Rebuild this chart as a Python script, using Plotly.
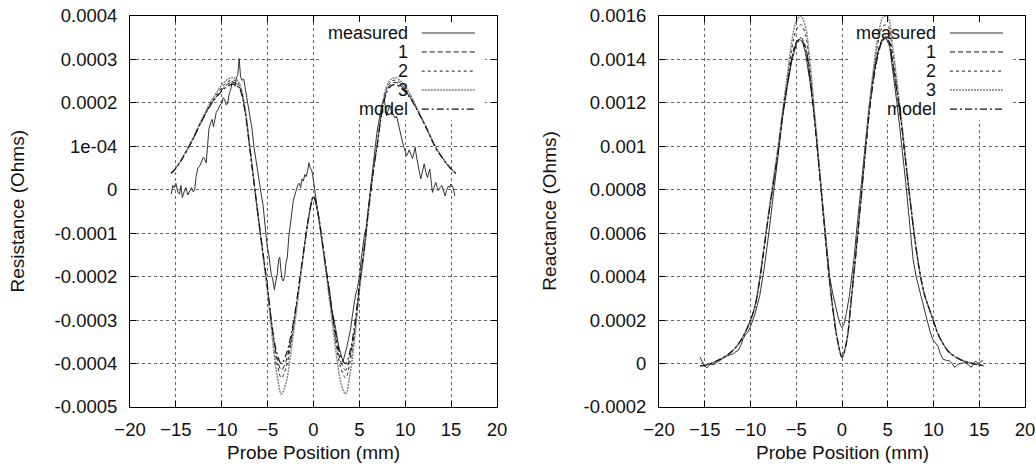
import plotly.graph_objects as go
from plotly.subplots import make_subplots

# model grid (mm)
x_grid = [-15.5, -15.0, -14.5, -14.0, -13.5, -13.0, -12.5, -12.0, -11.5, -11.0,
          -10.5, -10.0, -9.5, -9.0, -8.5, -8.0, -7.5, -7.0, -6.5, -6.0,
          -5.5, -5.0, -4.5, -4.0, -3.5, -3.0, -2.5, -2.0, -1.5, -1.0,
          -0.5, 0.0, 0.5,
          1.0, 1.5, 2.0, 2.5, 3.0, 3.5, 4.0, 4.5, 5.0, 5.5,
          6.0, 6.5, 7.0, 7.5, 8.0, 8.5, 9.0, 9.5, 10.0, 10.5,
          11.0, 11.5, 12.0, 12.5, 13.0, 13.5, 14.0, 14.5, 15.0, 15.5]

SCALE = 1e-4  # values below are in units of 1e-4 Ohms

# ---- Resistance ----
res_model = [0.38, 0.50, 0.65, 0.83, 1.02, 1.22, 1.45, 1.65, 1.85, 2.02,
             2.15, 2.27, 2.37, 2.42, 2.42, 2.30, 1.85, 1.05, 0.20, -0.65,
             -1.45, -2.25, -3.15, -3.75, -4.00, -3.80, -3.40, -2.80, -2.05, -1.30,
             -0.60, -0.15, -0.55,
             -1.25, -2.00, -2.75, -3.40, -3.85, -4.00, -3.70, -3.10, -2.20, -1.40,
             -0.45, 0.40, 1.10, 1.85, 2.25, 2.40, 2.42, 2.36, 2.25, 2.12,
             1.95, 1.75, 1.55, 1.33, 1.10, 0.90, 0.75, 0.60, 0.48, 0.38]
res_1 = [0.38, 0.50, 0.65, 0.83, 1.02, 1.22, 1.45, 1.65, 1.86, 2.03,
         2.17, 2.30, 2.41, 2.47, 2.46, 2.33, 1.87, 1.06, 0.20, -0.66,
         -1.47, -2.28, -3.20, -3.85, -4.15, -3.95, -3.50, -2.86, -2.08, -1.31,
         -0.60, -0.15, -0.55,
         -1.26, -2.03, -2.80, -3.50, -3.97, -4.15, -3.82, -3.20, -2.24, -1.42,
         -0.46, 0.40, 1.12, 1.88, 2.29, 2.44, 2.47, 2.40, 2.28, 2.14,
         1.96, 1.76, 1.55, 1.33, 1.10, 0.90, 0.75, 0.60, 0.48, 0.38]
res_2 = [0.38, 0.50, 0.65, 0.84, 1.03, 1.23, 1.46, 1.67, 1.88, 2.06,
         2.21, 2.35, 2.46, 2.52, 2.51, 2.37, 1.90, 1.08, 0.20, -0.67,
         -1.50, -2.32, -3.27, -3.97, -4.33, -4.10, -3.60, -2.92, -2.12, -1.33,
         -0.61, -0.15, -0.56,
         -1.28, -2.07, -2.86, -3.60, -4.12, -4.33, -3.95, -3.27, -2.28, -1.44,
         -0.47, 0.41, 1.14, 1.92, 2.34, 2.50, 2.52, 2.45, 2.32, 2.17,
         1.98, 1.77, 1.56, 1.34, 1.11, 0.91, 0.75, 0.60, 0.48, 0.38]
res_3 = [0.38, 0.50, 0.66, 0.85, 1.04, 1.25, 1.48, 1.70, 1.91, 2.10,
         2.26, 2.41, 2.52, 2.58, 2.56, 2.41, 1.93, 1.10, 0.20, -0.68,
         -1.53, -2.38, -3.40, -4.22, -4.70, -4.45, -3.80, -3.02, -2.17, -1.35,
         -0.62, -0.16, -0.57,
         -1.30, -2.12, -2.97, -3.80, -4.45, -4.70, -4.22, -3.40, -2.33, -1.47,
         -0.48, 0.42, 1.16, 1.96, 2.39, 2.55, 2.58, 2.50, 2.37, 2.21,
         2.01, 1.79, 1.57, 1.35, 1.12, 0.92, 0.76, 0.61, 0.48, 0.38]

res_meas_x = [-15.5, -15.35, -15.2, -15.0, -14.8, -14.6, -14.45, -14.3, -14.1, -13.9,
              -13.7, -13.5, -13.3, -13.1, -12.95, -12.8, -12.6, -12.4, -12.2, -12.0,
              -11.85, -11.7, -11.55, -11.4, -11.2, -11.05, -10.9, -10.75, -10.6, -10.4,
              -10.2, -10.0, -9.85, -9.7, -9.5, -9.35, -9.2, -9.0, -8.85, -8.7,
              -8.55, -8.4, -8.25, -8.1, -7.95, -7.8, -7.6, -7.45, -7.3, -7.1,
              -6.9, -6.7, -6.5, -6.3, -6.1, -5.9, -5.7, -5.5, -5.35, -5.2,
              -5.05, -4.9, -4.75, -4.6, -4.45, -4.27, -4.1, -3.95, -3.8, -3.68,
              -3.55, -3.44, -3.3, -3.15, -3.0, -2.85, -2.7, -2.55, -2.4, -2.2,
              -2.0, -1.85, -1.7, -1.55, -1.4, -1.25, -1.1, -0.95, -0.8, -0.65,
              -0.5, -0.35, -0.2, -0.1, 0.0, 0.15, 0.3, 0.5, 0.75, 1.0,
              1.25, 1.5, 1.75, 2.0, 2.25, 2.5, 2.75, 2.95, 3.1, 3.2,
              3.35, 3.5, 3.65, 3.8, 3.9, 4.05, 4.2, 4.3, 4.45, 4.6,
              4.75, 4.9, 5.05, 5.2, 5.35, 5.55, 5.72, 5.9, 6.1, 6.3,
              6.5, 6.7, 6.9, 7.1, 7.3, 7.45, 7.6, 7.72, 7.85, 7.97,
              8.1, 8.26, 8.4, 8.55, 8.7, 8.9, 9.05, 9.17, 9.35, 9.53,
              9.7, 9.9, 10.05, 10.14, 10.3, 10.43, 10.6, 10.8, 10.95, 11.09,
              11.2, 11.34, 11.5, 11.7, 11.85, 12.07, 12.25, 12.43, 12.55, 12.68,
              12.85, 12.97, 13.15, 13.33, 13.5, 13.62, 13.8, 13.99, 14.15, 14.35,
              14.5, 14.71, 14.85, 14.96, 15.1, 15.22, 15.32, 15.4]
res_meas = [-0.10, 0.10, 0.05, 0.15, -0.05, -0.10, 0.10, -0.18, -0.05, 0.05,
            -0.12, -0.02, 0.05, -0.05, 0.00, 0.30, 0.50, 0.55, 0.65, 0.75,
            0.70, 0.62, 1.00, 1.40, 1.55, 1.62, 1.45, 1.60, 1.78, 1.85,
            1.95, 1.98, 2.12, 2.08, 1.95, 2.00, 2.20, 2.32, 2.50, 2.45,
            2.38, 2.58, 2.65, 3.02, 2.60, 2.52, 2.55, 2.35, 2.15, 1.95,
            1.70, 1.40, 1.00, 0.70, 0.40, 0.15, -0.10, -0.35, -0.70, -1.10,
            -1.30, -1.45, -1.70, -1.95, -2.05, -2.30, -2.10, -1.95, -1.60, -1.55,
            -1.85, -2.05, -2.10, -2.00, -1.70, -1.55, -1.10, -0.80, -0.60, -0.25,
            -0.10, 0.00, 0.12, 0.15, 0.05, 0.25, 0.20, 0.35, 0.30, 0.42,
            0.62, 0.50, 0.45, 0.35, 0.20, -0.10, -0.30, -0.55, -0.90, -1.30,
            -1.65, -2.05, -2.30, -2.75, -3.00, -3.35, -3.60, -3.75, -3.85, -3.95,
            -3.85, -3.75, -3.60, -3.45, -3.35, -3.20, -2.95, -2.80, -2.55, -2.40,
            -2.30, -2.10, -1.95, -1.60, -1.30, -1.05, -0.90, -0.55, -0.15, 0.20,
            0.60, 0.95, 1.30, 1.55, 1.80, 1.95, 2.05, 2.10, 1.85, 1.70,
            1.80, 1.92, 1.85, 1.78, 1.72, 1.65, 1.70, 1.58, 1.40, 1.25,
            1.10, 0.95, 0.85, 0.78, 0.85, 0.92, 0.82, 0.72, 0.85, 0.98,
            0.80, 0.67, 0.45, 0.25, 0.40, 0.60, 0.40, 0.28, 0.40, 0.48,
            0.15, -0.06, 0.05, 0.17, 0.05, -0.02, 0.05, 0.10, 0.00, -0.14,
            -0.02, 0.09, 0.05, 0.13, 0.10, 0.05, -0.05, -0.14]

# ---- Reactance ----
react_model = [-0.10, -0.08, -0.02, 0.06, 0.16, 0.27, 0.40, 0.58, 0.80, 1.10,
               1.50, 2.00, 2.65, 3.85, 5.35, 6.90, 8.30, 9.70, 11.40, 12.80,
               14.00, 14.70, 14.90, 14.50, 13.10, 11.20, 9.00, 6.65, 4.40, 2.50,
               1.10, 0.30, 1.00,
               2.90, 5.00, 7.20, 9.50, 11.60, 13.20, 14.30, 14.90, 14.90, 13.90,
               12.50, 11.00, 9.10, 7.30, 5.60, 4.20, 3.20, 2.55, 1.95, 1.35,
               0.95, 0.62, 0.42, 0.28, 0.17, 0.09, 0.03, -0.02, -0.06, -0.10]
react_1 = [-0.10, -0.08, -0.02, 0.06, 0.16, 0.27, 0.40, 0.58, 0.80, 1.10,
           1.50, 2.00, 2.65, 3.85, 5.35, 6.90, 8.30, 9.72, 11.45, 12.85,
           14.05, 14.80, 15.00, 14.60, 13.20, 11.25, 9.02, 6.65, 4.40, 2.50,
           1.10, 0.30, 1.00,
           2.90, 5.00, 7.20, 9.52, 11.65, 13.30, 14.40, 15.00, 15.00, 14.00,
           12.55, 11.02, 9.10, 7.30, 5.60, 4.20, 3.20, 2.55, 1.95, 1.35,
           0.95, 0.62, 0.42, 0.28, 0.17, 0.09, 0.03, -0.02, -0.06, -0.10]
react_2 = [-0.10, -0.08, -0.02, 0.06, 0.16, 0.27, 0.40, 0.58, 0.80, 1.10,
           1.50, 2.00, 2.65, 3.87, 5.40, 6.95, 8.40, 9.85, 11.50, 13.00,
           14.45, 15.35, 15.60, 15.15, 13.60, 11.40, 9.10, 6.70, 4.42, 2.50,
           1.10, 0.30, 1.00,
           2.90, 5.02, 7.25, 9.60, 11.80, 13.60, 14.90, 15.55, 15.55, 14.40,
           12.80, 11.10, 9.20, 7.35, 5.62, 4.20, 3.20, 2.55, 1.95, 1.35,
           0.95, 0.62, 0.42, 0.28, 0.17, 0.09, 0.03, -0.02, -0.06, -0.10]
react_3 = [-0.10, -0.08, -0.02, 0.06, 0.16, 0.27, 0.40, 0.58, 0.80, 1.10,
           1.50, 2.00, 2.66, 3.90, 5.45, 7.00, 8.50, 9.95, 11.60, 13.20,
           14.80, 15.75, 16.00, 15.50, 13.90, 11.60, 9.20, 6.75, 4.45, 2.52,
           1.10, 0.30, 1.00,
           2.92, 5.05, 7.30, 9.70, 11.90, 13.80, 15.20, 15.95, 15.95, 14.70,
           13.00, 11.20, 9.28, 7.40, 5.65, 4.22, 3.20, 2.55, 1.95, 1.35,
           0.95, 0.62, 0.42, 0.28, 0.17, 0.09, 0.03, -0.02, -0.06, -0.10]

react_meas_x = [-15.5, -15.3, -15.0, -14.75, -14.45, -14.0, -13.5, -13.0, -12.6, -12.2,
                -11.9, -11.6, -11.35, -11.0, -10.8, -10.5, -10.27, -10.0, -9.75, -9.5,
                -9.0, -8.5, -8.0, -7.5, -7.0, -6.5, -6.0, -5.5, -5.0, -4.7,
                -4.3, -4.0, -3.5, -3.0, -2.5, -2.0, -1.7, -1.35, -1.0, -0.7,
                -0.4, -0.15, 0.0, 0.2, 0.47, 0.8, 1.0, 1.3, 1.57, 2.0,
                2.5, 3.0, 3.5, 4.0, 4.5, 4.8, 5.2, 5.6, 6.0, 6.3,
                6.6, 7.0, 7.4, 7.77, 8.1, 8.5, 8.9, 9.2, 9.6, 9.93,
                10.2, 10.48, 10.75, 11.03, 11.4, 11.76, 12.05, 12.3, 12.5, 12.67,
                13.0, 13.4, 13.8, 14.12, 14.35, 14.6, 14.85, 15.07, 15.25, 15.4]
react_meas = [0.30, 0.10, -0.10, -0.20, -0.05, -0.05, 0.10, 0.25, 0.35, 0.40,
              0.45, 0.55, 0.60, 0.90, 1.15, 1.35, 1.45, 1.70, 2.00, 2.30,
              3.10, 4.40, 6.00, 7.80, 9.60, 11.30, 12.70, 13.90, 14.70, 14.95,
              14.80, 14.30, 13.00, 11.30, 9.00, 6.70, 5.40, 4.00, 3.20, 2.60,
              2.10, 1.75, 1.65, 1.80, 2.30, 3.10, 3.70, 4.80, 6.00, 7.90,
              10.00, 12.00, 13.50, 14.50, 14.95, 15.00, 14.60, 13.40, 12.00, 10.90,
              9.80, 8.20, 6.40, 4.80, 4.00, 3.30, 2.70, 2.10, 1.50, 1.10,
              0.95, 0.80, 0.45, 0.20, 0.15, 0.12, 0.00, -0.18, -0.10, -0.03,
              0.00, 0.05, -0.05, -0.18, 0.00, 0.12, 0.00, 0.05, 0.10, 0.15]

# tick labels as printed by gnuplot
res_tickvals = [0.0004, 0.0003, 0.0002, 0.0001, 0, -0.0001, -0.0002, -0.0003, -0.0004, -0.0005]
res_ticktext = ["0.0004", "0.0003", "0.0002", "1e-04", "0", "-0.0001", "-0.0002",
                "-0.0003", "-0.0004", "-0.0005"]
react_tickvals = [0.0016, 0.0014, 0.0012, 0.001, 0.0008, 0.0006, 0.0004, 0.0002, 0, -0.0002]
react_ticktext = ["0.0016", "0.0014", "0.0012", "0.001", "0.0008", "0.0006", "0.0004",
                  "0.0002", "0", "-0.0002"]

series_names = ["measured", "1", "2", "3", "model"]
line_styles = {
    "measured": dict(color="#333333", width=1, dash="solid"),
    "1": dict(color="#111111", width=1, dash="5px,3px"),
    "2": dict(color="#222222", width=1, dash="3px,3px"),
    "3": dict(color="#808080", width=1.5, dash="2px,1px"),
    "model": dict(color="#111111", width=1.2, dash="7px,3px,2px,3px"),
}

FONT = "Liberation Sans, Arial, sans-serif"

fig = make_subplots(rows=1, cols=2)

panels = [
    (1, res_meas_x, res_meas, [res_1, res_2, res_3, res_model]),
    (2, react_meas_x, react_meas, [react_1, react_2, react_3, react_model]),
]
for col, mx, my, models in panels:
    fig.add_trace(go.Scatter(x=mx, y=[v * SCALE for v in my], mode="lines",
                             line=line_styles["measured"], showlegend=False),
                  row=1, col=col)
    for name, ys in zip(series_names[1:], models):
        fig.add_trace(go.Scatter(x=x_grid, y=[v * SCALE for v in ys], mode="lines",
                                 line_shape="spline", line=line_styles[name],
                                 showlegend=False),
                      row=1, col=col)

axis_common = dict(
    showgrid=True, gridcolor="#666666", griddash="dot", gridwidth=1,
    showline=True, linecolor="black", linewidth=1, mirror="allticks",
    ticks="inside", ticklen=6, tickcolor="black", zeroline=False, automargin=False,
    tickfont=dict(family=FONT, size=18.5, color="#111111"),
)
fig.update_xaxes(range=[-20, 20], tickvals=[-20, -15, -10, -5, 0, 5, 10, 15, 20],
                 ticklabelstandoff=6, **axis_common)
fig.update_layout(
    xaxis=dict(domain=[0.1255, 0.4797]),
    xaxis2=dict(domain=[0.6361, 0.9894]),
    yaxis=dict(domain=[0.1266, 0.9657], range=[-0.0005, 0.0004],
               tickvals=res_tickvals, ticktext=res_ticktext, ticklabelstandoff=8, **axis_common),
    yaxis2=dict(domain=[0.1266, 0.9657], range=[-0.0002, 0.0016],
                tickvals=react_tickvals, ticktext=react_ticktext, ticklabelstandoff=8, **axis_common),
    width=1036, height=466,
    margin=dict(l=0, r=0, t=0, b=0),
    paper_bgcolor="white", plot_bgcolor="white",
    showlegend=False,
)

# key: white box hides the grid (drawn in data coords), text right-aligned, sample on the right
row_y = [0.9565, 0.908, 0.859, 0.811, 0.762]
key_boxes = [("x", "y", 0.00016, 0.0004), ("x2", "y2", 0.00112, 0.0016)]
for xr, yr, yb0, yb1 in key_boxes:
    fig.add_shape(type="rect", xref=xr, yref=yr, x0=0.72, x1=18.7, y0=yb0, y1=yb1,
                  fillcolor="white", line=dict(width=0), layer="between")
    for name, ry in zip(series_names, row_y):
        fig.add_annotation(xref=xr + " domain", yref=yr + " domain", x=0.762, y=ry, text=name,
                           showarrow=False, xanchor="right", yanchor="middle",
                           font=dict(family=FONT, size=18, color="#111111"))
        st = line_styles[name]
        fig.add_shape(type="line", xref=xr + " domain", yref=yr + " domain",
                      x0=0.795, x1=0.94, y0=ry, y1=ry,
                      line=dict(color=st["color"], width=st["width"], dash=st["dash"]))

# axis titles
for xc in [0.3026, 0.8128]:
    fig.add_annotation(xref="paper", yref="paper", x=xc, y=0.028, text="Probe Position (mm)",
                       showarrow=False, xanchor="center", yanchor="middle",
                       font=dict(family=FONT, size=19, color="#111111"))
fig.add_annotation(xref="paper", yref="paper", x=0.0174, y=0.546, text="Resistance (Ohms)",
                   showarrow=False, textangle=-90, xanchor="center", yanchor="middle",
                   font=dict(family=FONT, size=19, color="#111111"))
fig.add_annotation(xref="paper", yref="paper", x=0.530, y=0.546, text="Reactance (Ohms)",
                   showarrow=False, textangle=-90, xanchor="center", yanchor="middle",
                   font=dict(family=FONT, size=19, color="#111111"))

fig.write_html("out.html", config={"displayModeBar": False},
               post_script="document.body.style.margin='0';")
